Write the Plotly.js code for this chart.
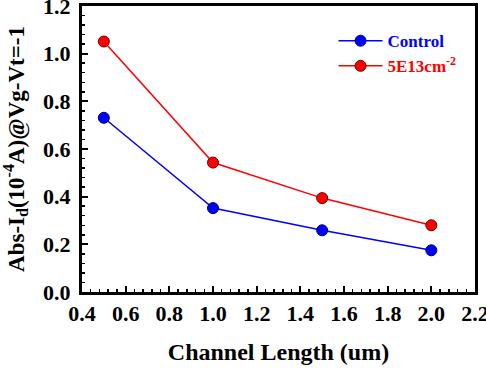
<!DOCTYPE html>
<html>
<head>
<meta charset="utf-8">
<script src="https://cdn.plot.ly/plotly-3.0.1.min.js"></script>
<style>html,body{margin:0;padding:0;background:#fff;}#chart{width:486px;height:368px;}</style>
</head>
<body>
<div id="chart"></div>
<script>
const channelLength = [0.5, 1.0, 1.5, 2.0];
const controlValues = [0.731, 0.352, 0.259, 0.175];
const implantValues = [1.051, 0.543, 0.394, 0.280];
const seriesNames = ['Control', '5E13cm<sup>-2</sup>'];
const xTicks = [0.4, 0.6, 0.8, 1.0, 1.2, 1.4, 1.6, 1.8, 2.0, 2.2];
const yTicks = [0.0, 0.2, 0.4, 0.6, 0.8, 1.0, 1.2];

const font = 'Liberation Serif';

const traces = [
  {
    x: channelLength, y: controlValues, name: '<span style="color:#0000ff">' + seriesNames[0] + '</span>',
    mode: 'lines+markers', type: 'scatter',
    line: {color: '#0000ff', width: 1.5},
    marker: {color: '#0000ff', size: 11, line: {color: '#000066', width: 1}}
  },
  {
    x: channelLength, y: implantValues, name: '<span style="color:#ff0000">' + seriesNames[1] + '</span>',
    mode: 'lines+markers', type: 'scatter',
    line: {color: '#ff0000', width: 1.5},
    marker: {color: '#ff0000', size: 11, line: {color: '#660000', width: 1}}
  }
];

const layout = {
  width: 486, height: 368,
  margin: {l: 82, r: 11, t: 6, b: 76},
  paper_bgcolor: '#fff', plot_bgcolor: '#fff',
  font: {family: font, color: '#000'},
  showlegend: true,
  legend: {
    x: 0.64, y: 0.94, xanchor: 'left', yanchor: 'top',
    bgcolor: 'rgba(0,0,0,0)',
    font: {family: font, size: 17, weight: 'bold'},
    itemwidth: 44,
    tracegroupgap: 0
  },
  xaxis: {
    range: [0.4, 2.2],
    tickvals: xTicks, ticktext: xTicks.map(v => v.toFixed(1)),
    ticks: 'inside', ticklen: 6, tickwidth: 2, tickcolor: '#000',
    ticklabeloverflow: 'allow',
    minor: {dtick: 0.04, ticks: 'inside', ticklen: 3, tickwidth: 1.5, tickcolor: '#000'},
    showline: true, linewidth: 3, linecolor: '#000', mirror: true,
    showgrid: false, zeroline: false,
    tickfont: {family: font, size: 22, weight: 'bold'},
    title: {text: 'Channel Length (um)', font: {family: font, size: 24, weight: 'bold'}, standoff: 18}
  },
  yaxis: {
    range: [0, 1.2],
    tickvals: yTicks, ticktext: yTicks.map(v => v.toFixed(1)),
    ticks: 'inside', ticklen: 6, tickwidth: 2, tickcolor: '#000',
    ticklabeloverflow: 'allow',
    ticklabelstandoff: 4,
    minor: {dtick: 0.04, ticks: 'inside', ticklen: 3, tickwidth: 1.5, tickcolor: '#000'},
    showline: true, linewidth: 3, linecolor: '#000', mirror: true,
    showgrid: false, zeroline: false,
    tickfont: {family: font, size: 22, weight: 'bold'},
    title: {text: 'Abs-I<sub>d</sub>(10<sup>-4</sup>A)@Vg-Vt=-1', font: {family: font, size: 23, weight: 'bold'}, standoff: 15}
  }
};

Plotly.newPlot('chart', traces, layout, {staticPlot: true, displayModeBar: false});
</script>
</body>
</html>
